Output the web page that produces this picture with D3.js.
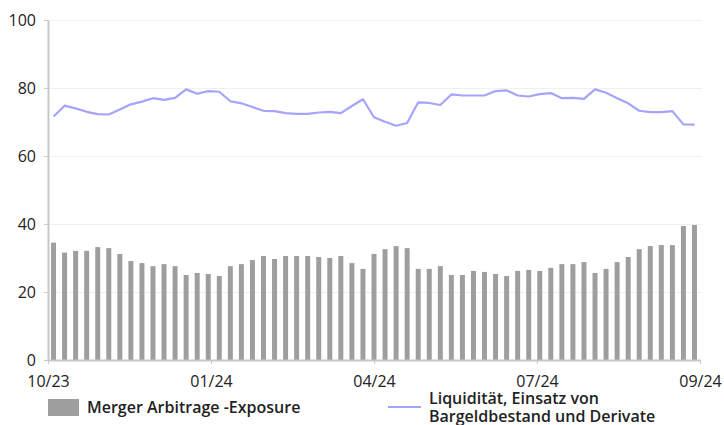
<!DOCTYPE html>
<html>
<head>
<meta charset="utf-8">
<script src="https://cdn.jsdelivr.net/npm/d3@7"></script>
<style>
  body { margin: 0; background: #fff; }
  svg text { font-family: "Open Sans", sans-serif; fill: #222; }
</style>
</head>
<body>
<div id="chart"></div>
<script>
// x axis labels (placed at quarter positions of the axis)
var tickLabels = ["10/23", "01/24", "04/24", "07/24", "09/24"];

// Merger Arbitrage -Exposure (bars), one value per period
var exposure = [34.5, 31.6, 32.1, 32.1, 33.2, 32.9, 31.2, 29.1, 28.5, 27.6,
                28.2, 27.6, 25.0, 25.6, 25.3, 24.7, 27.6, 28.2, 29.4, 30.6,
                29.7, 30.6, 30.6, 30.6, 30.3, 30.0, 30.6, 28.5, 26.8, 31.2,
                32.6, 33.5, 32.9, 26.8, 26.8, 27.6, 25.0, 25.0, 26.2, 25.9,
                25.3, 24.7, 26.2, 26.5, 26.2, 27.1, 28.2, 28.2, 28.8, 25.6,
                26.8, 28.8, 30.3, 32.6, 33.5, 33.8, 33.8, 39.4, 39.7];

// Liquiditaet, Einsatz von Bargeldbestand und Derivate (line)
var liquidity = [71.6, 74.8, 74.0, 73.0, 72.3, 72.2, 73.7, 75.2, 76.0, 77.0,
                 76.5, 77.1, 79.6, 78.3, 79.1, 78.9, 76.1, 75.5, 74.4, 73.3,
                 73.2, 72.6, 72.4, 72.4, 72.8, 73.0, 72.6, 74.7, 76.7, 71.4,
                 70.1, 68.9, 69.7, 75.8, 75.6, 75.0, 78.1, 77.8, 77.8, 77.8,
                 79.1, 79.3, 77.8, 77.5, 78.2, 78.5, 77.0, 77.1, 76.8, 79.6,
                 78.6, 77.0, 75.5, 73.3, 72.9, 72.9, 73.2, 69.3, 69.2];

var yTicks = [0, 20, 40, 60, 80, 100];

var width = 724, height = 425;
// plot box (note: "top" is a reserved window property, so prefix these)
var plotLeft = 48, plotRight = 700, plotTop = 20, plotBottom = 360;

var svg = d3.select("#chart").append("svg")
            .attr("width", width)
            .attr("height", height);

var x = d3.scaleBand()
          .domain(d3.range(exposure.length))
          .range([plotLeft, plotRight])
          .paddingInner(0.55)
          .paddingOuter(0.275);

var xTick = d3.scaleLinear()
              .domain([0, tickLabels.length - 1])
              .range([plotLeft, plotRight]);

var y = d3.scaleLinear()
          .domain([0, 100])
          .range([plotBottom, plotTop]);

// grid
svg.append("g")
   .selectAll("line")
   .data(yTicks.slice(1))
   .enter().append("line")
   .attr("x1", plotLeft)
   .attr("x2", plotRight + 2)
   .attr("y1", function(d) { return y(d) + 0.5; })
   .attr("y2", function(d) { return y(d) + 0.5; })
   .style("stroke", "#efefef")
   .style("stroke-width", 1);

// bars
svg.append("g")
   .selectAll("rect")
   .data(exposure)
   .enter().append("rect")
   .attr("x", function(d, i) { return x(i); })
   .attr("y", function(d) { return y(d); })
   .attr("width", x.bandwidth())
   .attr("height", function(d) { return y(0) - y(d); })
   .style("fill", "#9e9e9e");

// line
var line = d3.line()
             .x(function(d, i) { return x(i) + x.bandwidth() / 2; })
             .y(function(d) { return y(d); });

svg.append("path")
   .datum(liquidity)
   .attr("d", line)
   .style("fill", "none")
   .style("stroke", "#a4a4ff")
   .style("stroke-width", 2.2)
   .style("stroke-linejoin", "round");

// y axis
var yAxis = svg.append("g")
               .attr("transform", "translate(" + plotLeft + ",0)")
               .call(d3.axisLeft(y).tickValues(yTicks).tickSize(4).tickSizeOuter(0).tickPadding(8));
yAxis.select(".domain").style("stroke", "#c8c8c8").style("stroke-width", 2);
yAxis.selectAll(".tick line").style("stroke", "#c8c8c8");
yAxis.selectAll("text").style("font-size", "16px").style("fill", "#222");

// x axis
var xAxis = svg.append("g")
               .attr("transform", "translate(0," + plotBottom + ")")
               .call(d3.axisBottom(xTick)
                       .tickValues(d3.range(tickLabels.length))
                       .tickFormat(function(d) { return tickLabels[d]; })
                       .tickSize(4).tickSizeOuter(0).tickPadding(12));
xAxis.select(".domain").style("stroke", "#c8c8c8").style("stroke-width", 2);
xAxis.selectAll(".tick line").style("stroke", "#c8c8c8");
xAxis.selectAll("text").style("font-size", "16px").style("fill", "#222");

// legend
var legend = svg.append("g");
legend.append("rect")
      .attr("x", 48).attr("y", 399)
      .attr("width", 31).attr("height", 17)
      .style("fill", "#9e9e9e");
legend.append("text")
      .attr("x", 87).attr("y", 413)
      .style("font-size", "16px").style("font-weight", 600)
      .text("Merger Arbitrage -Exposure");
legend.append("line")
      .attr("x1", 388).attr("x2", 421)
      .attr("y1", 407).attr("y2", 407)
      .style("stroke", "#a4a4ff").style("stroke-width", 2.2);
var lt = legend.append("text")
               .attr("x", 429).attr("y", 404)
               .style("font-size", "16px").style("font-weight", 600);
lt.append("tspan").attr("x", 429).text("Liquidität, Einsatz von");
lt.append("tspan").attr("x", 429).attr("dy", 17.5).text("Bargeldbestand und Derivate");
</script>
</body>
</html>
